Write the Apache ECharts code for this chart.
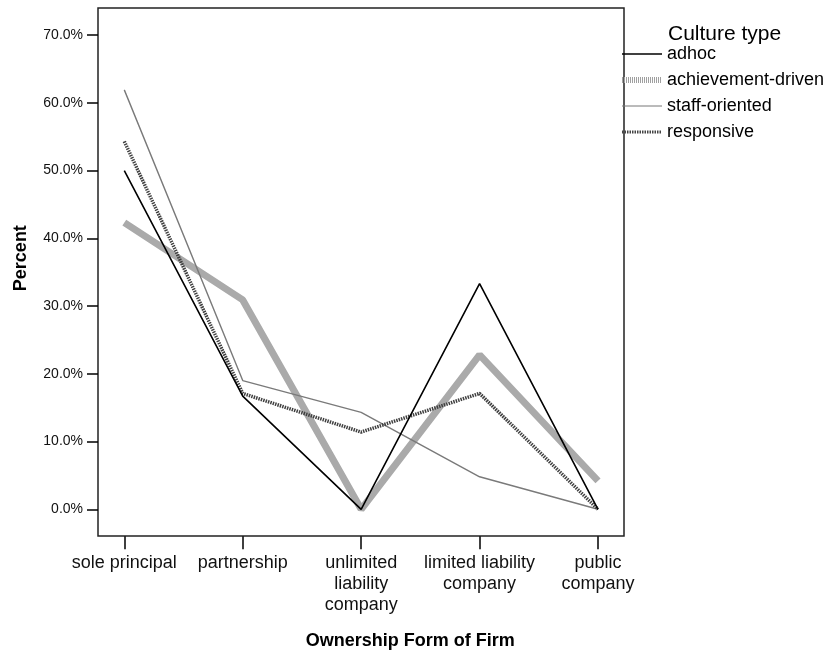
<!DOCTYPE html>
<html>
<head>
<meta charset="utf-8">
<script src="https://cdn.jsdelivr.net/npm/echarts@6/dist/echarts.min.js"></script>
<style>html,body{margin:0;padding:0;background:#fff;}#c{width:827px;height:658px;}</style>
</head>
<body>
<div id="c"></div>
<script>
const categories = ['sole principal', 'partnership', 'unlimited\nliability\ncompany', 'limited liability\ncompany', 'public\ncompany'];
const seriesNames = ['adhoc', 'achievement-driven', 'staff-oriented', 'responsive'];
const adhoc = [50.0, 16.7, 0.0, 33.3, 0.0];
const achievementDriven = [42.3, 30.9, 0.0, 22.8, 4.2];
const staffOriented = [61.9, 19.0, 14.3, 4.8, 0.0];
const responsive = [54.3, 17.1, 11.4, 17.1, 0.0];
const yTicks = [0, 10, 20, 30, 40, 50, 60, 70];

const FONT = 'Liberation Sans, Arial, sans-serif';
const styles = {
  'adhoc': {color: '#000', width: 1.6, type: 'solid'},
  'achievement-driven': {color: '#aaaaaa', width: 7, type: 'solid'},
  'staff-oriented': {color: '#7a7a7a', width: 1.4, type: 'solid'},
  'responsive': {color: '#404040', width: 3.5, type: [1.5, 1]}
};
const legendStyles = {
  'adhoc': {color: '#000', width: 1.5, type: 'solid'},
  'achievement-driven': {color: '#a0a0a0', width: 6, type: [1, 1]},
  'staff-oriented': {color: '#777', width: 1, type: 'solid'},
  'responsive': {color: '#444', width: 3, type: [1.5, 1]}
};
const chart = echarts.init(document.getElementById('c'), null, {renderer: 'canvas'});

function lineSeries(name, data, z) {
  const s = styles[name];
  return {name: name, type: 'line', data: data, symbol: 'none', z: z,
    lineStyle: {color: s.color, width: s.width, type: s.type}, itemStyle: {color: s.color}};
}

chart.setOption({
  backgroundColor: '#fff',
  animation: false,
  textStyle: {fontFamily: FONT},
  title: {
    text: 'Culture type', left: 663, top: 19,
    textStyle: {fontFamily: FONT, fontSize: 21, fontWeight: 'normal', color: '#000'}
  },
  legend: {
    orient: 'vertical', left: 614, top: 40,
    itemWidth: 40, itemHeight: 14, itemGap: 8,
    itemStyle: {opacity: 0},
    data: seriesNames.map(n => ({name: n, lineStyle: legendStyles[n]})),
    textStyle: {fontFamily: FONT, fontSize: 18, lineHeight: 18, color: '#000'}
  },
  grid: [
    {left: 124.3, right: 229, top: 35, bottom: 148.7},
    {left: 98, right: 203, top: 8, bottom: 122, show: true, borderColor: '#222', borderWidth: 1.5, backgroundColor: 'transparent'}
  ],
  xAxis: [
    {
      type: 'category', gridIndex: 0, data: categories, boundaryGap: false,
      offset: 27,
      axisLine: {show: false, onZero: false},
      axisTick: {show: true, length: 13, alignWithLabel: true, lineStyle: {color: '#000', width: 1.5}},
      axisLabel: {interval: 0, margin: 16, fontSize: 18, lineHeight: 21, color: '#111', fontFamily: FONT},
      name: 'Ownership Form of Firm', nameLocation: 'middle', nameGap: 96,
      nameTextStyle: {fontFamily: FONT, fontSize: 18, fontWeight: 'bold', color: '#000', padding: [0, 0, 0, 98]}
    },
    {type: 'value', gridIndex: 1, show: false, min: 0, max: 1}
  ],
  yAxis: [
    {
      type: 'value', gridIndex: 0, min: 0, max: 70, interval: 10,
      offset: 26.3,
      axisLine: {show: false, onZero: false},
      splitLine: {show: false},
      axisTick: {show: true, length: 11, lineStyle: {color: '#000', width: 1.5}},
      axisLabel: {margin: 15, fontSize: 14, color: '#111', fontFamily: FONT,
        formatter: v => yTicks.indexOf(v) >= 0 ? v.toFixed(1) + '%' : ''},
      name: 'Percent', nameLocation: 'middle', nameGap: 68,
      nameTextStyle: {fontFamily: FONT, fontSize: 18, fontWeight: 'bold', color: '#000', padding: [0, 0, 0, 28]}
    },
    {type: 'value', gridIndex: 1, show: false, min: 0, max: 1}
  ],
  series: [
    lineSeries('achievement-driven', achievementDriven, 2),
    lineSeries('staff-oriented', staffOriented, 3),
    lineSeries('responsive', responsive, 4),
    lineSeries('adhoc', adhoc, 5)
  ]
});
</script>
</body>
</html>
